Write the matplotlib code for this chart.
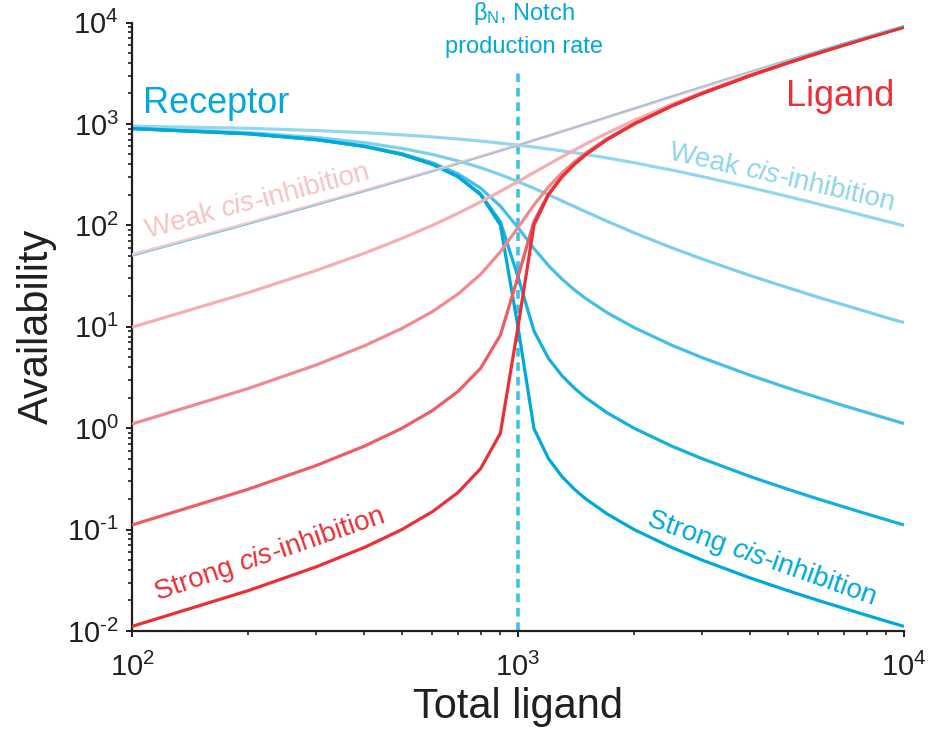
import math
import matplotlib
matplotlib.use("Agg")
import matplotlib.pyplot as plt
from matplotlib.transforms import offset_copy
from matplotlib.ticker import LogLocator, FixedLocator, FuncFormatter, NullFormatter

plt.rcParams['font.family'] = ['Liberation Sans', 'DejaVu Sans']
plt.rcParams['mathtext.fontset'] = 'custom'
plt.rcParams['mathtext.rm'] = 'Liberation Sans'
plt.rcParams['mathtext.default'] = 'regular'

# ---- data -----------------------------------------------------------------
total_ligand = [100, 200, 300, 400, 500, 600, 700, 800, 900, 1000,
                1100, 1200, 1300, 1400, 1500, 1700, 2000, 2500, 3000,
                4000, 5000, 6000, 7000, 8000, 9000, 10000]

ligand_strongest = [0.0111, 0.0250, 0.0429, 0.0667, 0.100, 0.150, 0.233, 0.399, 0.891, 9.95,
                    101.0, 200.5, 300.3, 400.2, 500.2, 700.1, 1000.1, 1500.1, 2000.0,
                    3000.0, 4000.0, 5000.0, 6000.0, 7000.0, 8000.0, 9000.0]
ligand_strong = [0.111, 0.250, 0.428, 0.665, 0.996, 1.49, 2.31, 3.90, 8.24, 31.1,
                 109.1, 204.9, 303.3, 402.5, 502.0, 701.4, 1001.0, 1500.7, 2000.5,
                 3000.3, 4000.2, 5000.2, 6000.2, 7000.1, 8000.1, 9000.1]
ligand_medium = [1.10, 2.46, 4.20, 6.49, 9.62, 14.1, 21.1, 32.9, 54.7, 95.1,
                 159.1, 240.0, 329.5, 423.1, 518.9, 713.8, 1009.8, 1506.6, 2005.0,
                 3003.3, 4002.5, 5002.0, 6001.7, 7001.4, 8001.2, 9001.1]
ligand_weak = [9.90, 21.7, 35.9, 53.1, 74.2, 100.0, 131.7, 170.2, 216.2, 270.2,
               331.7, 400.0, 474.2, 553.1, 635.9, 809.9, 1084.4, 1560.2, 2046.6,
               3031.9, 4024.3, 5019.5, 6016.4, 7014.1, 8012.3, 9011.0]
ligand_weakest = [51.2, 105.0, 161.2, 219.8, 280.8, 344.0, 409.5, 477.0, 546.6, 618.0,
                  691.3, 766.2, 842.7, 920.7, 1000.0, 1162.4, 1414.2, 1850.8, 2302.8,
                  3236.1, 4192.6, 5162.3, 6140.1, 7123.1, 8109.8, 9099.0]

receptor_strongest = [900.0, 800.0, 700.0, 600.1, 500.1, 400.2, 300.2, 200.4, 100.9, 9.95,
                      0.989, 0.499, 0.333, 0.250, 0.200, 0.143, 0.100, 0.0667, 0.0500,
                      0.0333, 0.0250, 0.0200, 0.0167, 0.0143, 0.0125, 0.0111]
receptor_strong = [900.1, 800.2, 700.4, 600.7, 501.0, 401.5, 302.3, 203.9, 108.2, 31.1,
                   9.08, 4.86, 3.29, 2.48, 1.99, 1.42, 0.998, 0.666, 0.500,
                   0.333, 0.250, 0.200, 0.167, 0.143, 0.125, 0.111]
receptor_medium = [901.1, 802.5, 704.2, 606.5, 509.6, 414.1, 321.1, 232.9, 154.7, 95.1,
                   59.1, 40.0, 29.5, 23.1, 18.9, 13.8, 9.81, 6.59, 4.96,
                   3.32, 2.49, 2.00, 1.66, 1.43, 1.25, 1.11]
receptor_weak = [909.9, 821.7, 735.9, 653.1, 574.2, 500.0, 431.7, 370.2, 316.2, 270.2,
                 231.7, 200.0, 174.2, 153.1, 135.9, 109.9, 84.4, 60.2, 46.6,
                 31.9, 24.3, 19.5, 16.4, 14.1, 12.3, 11.0]
receptor_weakest = [951.2, 905.0, 861.2, 819.8, 780.8, 744.0, 709.5, 677.0, 646.6, 618.0,
                    591.3, 566.2, 542.7, 520.7, 500.0, 462.4, 414.2, 350.8, 302.8,
                    236.1, 192.6, 162.3, 140.1, 123.1, 109.8, 99.0]

# thin companion trace running along the weakest ligand curve
ligand_trace = [49.6, 102.4, 157.8, 215.8, 276.6, 339.5, 405.0, 472.7, 542.8, 614.9,
                689.2, 764.7, 842.7, 921.6, 1002.0, 1167.0, 1424.1, 1871.2, 2335.0,
                3294.3, 4280.6, 5286.2, 6299.7, 7322.5, 8345.0, 9372.0]

notch_production = 1000

x_ticks = [1e2, 1e3, 1e4]
y_ticks = [1e-2, 1e-1, 1e0, 1e1, 1e2, 1e3, 1e4]

ligand_series = [ligand_weakest, ligand_weak, ligand_medium, ligand_strong, ligand_strongest]
receptor_series = [receptor_weakest, receptor_weak, receptor_medium, receptor_strong, receptor_strongest]

red_shades = ["#F8C7C9", "#F5AEB1", "#F18A8E", "#EE5D62", "#EC2F37"]
blue_shades = ["#93D7EF", "#7DD0EC", "#45BFE6", "#12B1E0", "#00A9DC"]

# ---- figure ---------------------------------------------------------------
fig = plt.figure(figsize=(9.33, 7.31), dpi=100)
ax = fig.add_axes([0.1415, 0.1368, 0.8274, 0.8324])
ax.set_xscale('log')
ax.set_yscale('log')
ax.set_xlim(1e2, 1e4)
ax.set_ylim(1e-2, 1e4)

lw = 2.3
for vals, col in zip(receptor_series, blue_shades):
    ax.plot(total_ligand, vals, color=col, lw=lw, solid_capstyle='butt', zorder=2)
for vals, col in zip(ligand_series, red_shades):
    ax.plot(total_ligand, vals, color=col, lw=lw, solid_capstyle='butt', zorder=3)
ax.plot(total_ligand, ligand_trace, color="#6FCBEC", lw=0.8, zorder=4)

# Notch production rate marker
ax.vlines(notch_production, 1e-2, 3400, colors="#3FC0E8", lw=2.6,
          linestyles=(0, (2.4, 1.6)), zorder=1, clip_on=False)

# ---- axes styling ---------------------------------------------------------
axis_color = "#231F20"
for side in ('top', 'right'):
    ax.spines[side].set_visible(False)
for side in ('left', 'bottom'):
    ax.spines[side].set_linewidth(1.6)
    ax.spines[side].set_color(axis_color)


def pow10(v, pos):
    e = int(round(math.log10(v)))
    exp = str(e).replace('-', '\u2010')
    return r'$10^{%s}$' % exp


ax.xaxis.set_major_locator(FixedLocator(x_ticks))
ax.yaxis.set_major_locator(FixedLocator(y_ticks))
ax.xaxis.set_major_formatter(FuncFormatter(pow10))
ax.yaxis.set_major_formatter(FuncFormatter(pow10))
ax.xaxis.set_minor_locator(LogLocator(base=10, subs=range(2, 10), numticks=20))
ax.yaxis.set_minor_locator(LogLocator(base=10, subs=range(2, 10), numticks=20))
ax.xaxis.set_minor_formatter(NullFormatter())
ax.yaxis.set_minor_formatter(NullFormatter())

ax.tick_params(which='major', direction='out', length=4.5, width=1.4,
               color=axis_color, labelsize=21, labelcolor=axis_color)
ax.tick_params(which='minor', direction='out', length=2.6, width=1.2, color=axis_color)
ax.tick_params(axis='x', which='major', pad=11)
ax.tick_params(axis='y', which='major', pad=5)

ax.set_xlabel("Total ligand", fontsize=30, color=axis_color, labelpad=4)
ax.set_ylabel("Availability", fontsize=30, color=axis_color, labelpad=7)

# ---- annotations ----------------------------------------------------------
ax.text(106.8, 1289, "Receptor", fontsize=26, color="#00A9DC",
        ha='left', va='baseline')
ax.text(4943, 1510, "Ligand", fontsize=26, color="#EC2F37",
        ha='left', va='baseline')

renderer = fig.canvas.get_renderer()


def piece_width(txt, **props):
    """Advance width (px) of a text run, trailing spaces included."""
    a = fig.text(0, 0, txt + "|", **props)
    b = fig.text(0, 0, "|", **props)
    w = a.get_window_extent(renderer).width - b.get_window_extent(renderer).width
    a.remove()
    b.remove()
    return w


def mixed_label(x, y, first, angle, color, size=20):
    """Rotated '<first> cis-inhibition' label with an italic 'cis'."""
    runs = [(first + " ", dict(family='Liberation Sans', style='normal')),
            ("cis", dict(family='Liberation Sans', style='italic')),
            ("-inhibition", dict(family='Liberation Sans', style='normal'))]
    th = math.radians(angle)
    adv = 0.0
    for txt, props in runs:
        tr = offset_copy(ax.transData, fig=fig, x=adv * math.cos(th),
                         y=adv * math.sin(th), units='dots')
        ax.text(x, y, txt, transform=tr, fontsize=size, color=color,
                rotation=angle, rotation_mode='anchor', ha='left',
                va='baseline', **props)
        adv += piece_width(txt, fontsize=size, **props)


mixed_label(110, 75.7, "Weak", 15, "#F7C3C5")
mixed_label(2447, 454, "Weak", -13, "#8ED5EE")
mixed_label(116.8, 0.02005, "Strong", 19, "#EC2F37")
mixed_label(2146, 0.110, "Strong", -19.5, "#00A9DC")

ax.text(1035, 10630, r"β$_{N}$, Notch", fontsize=17, color="#00A9DC",
        ha='center', va='baseline', clip_on=False)
ax.text(1035, 5029, "production rate", fontsize=17, color="#00A9DC",
        ha='center', va='baseline', clip_on=False)

fig.savefig("out.png", dpi=100)
